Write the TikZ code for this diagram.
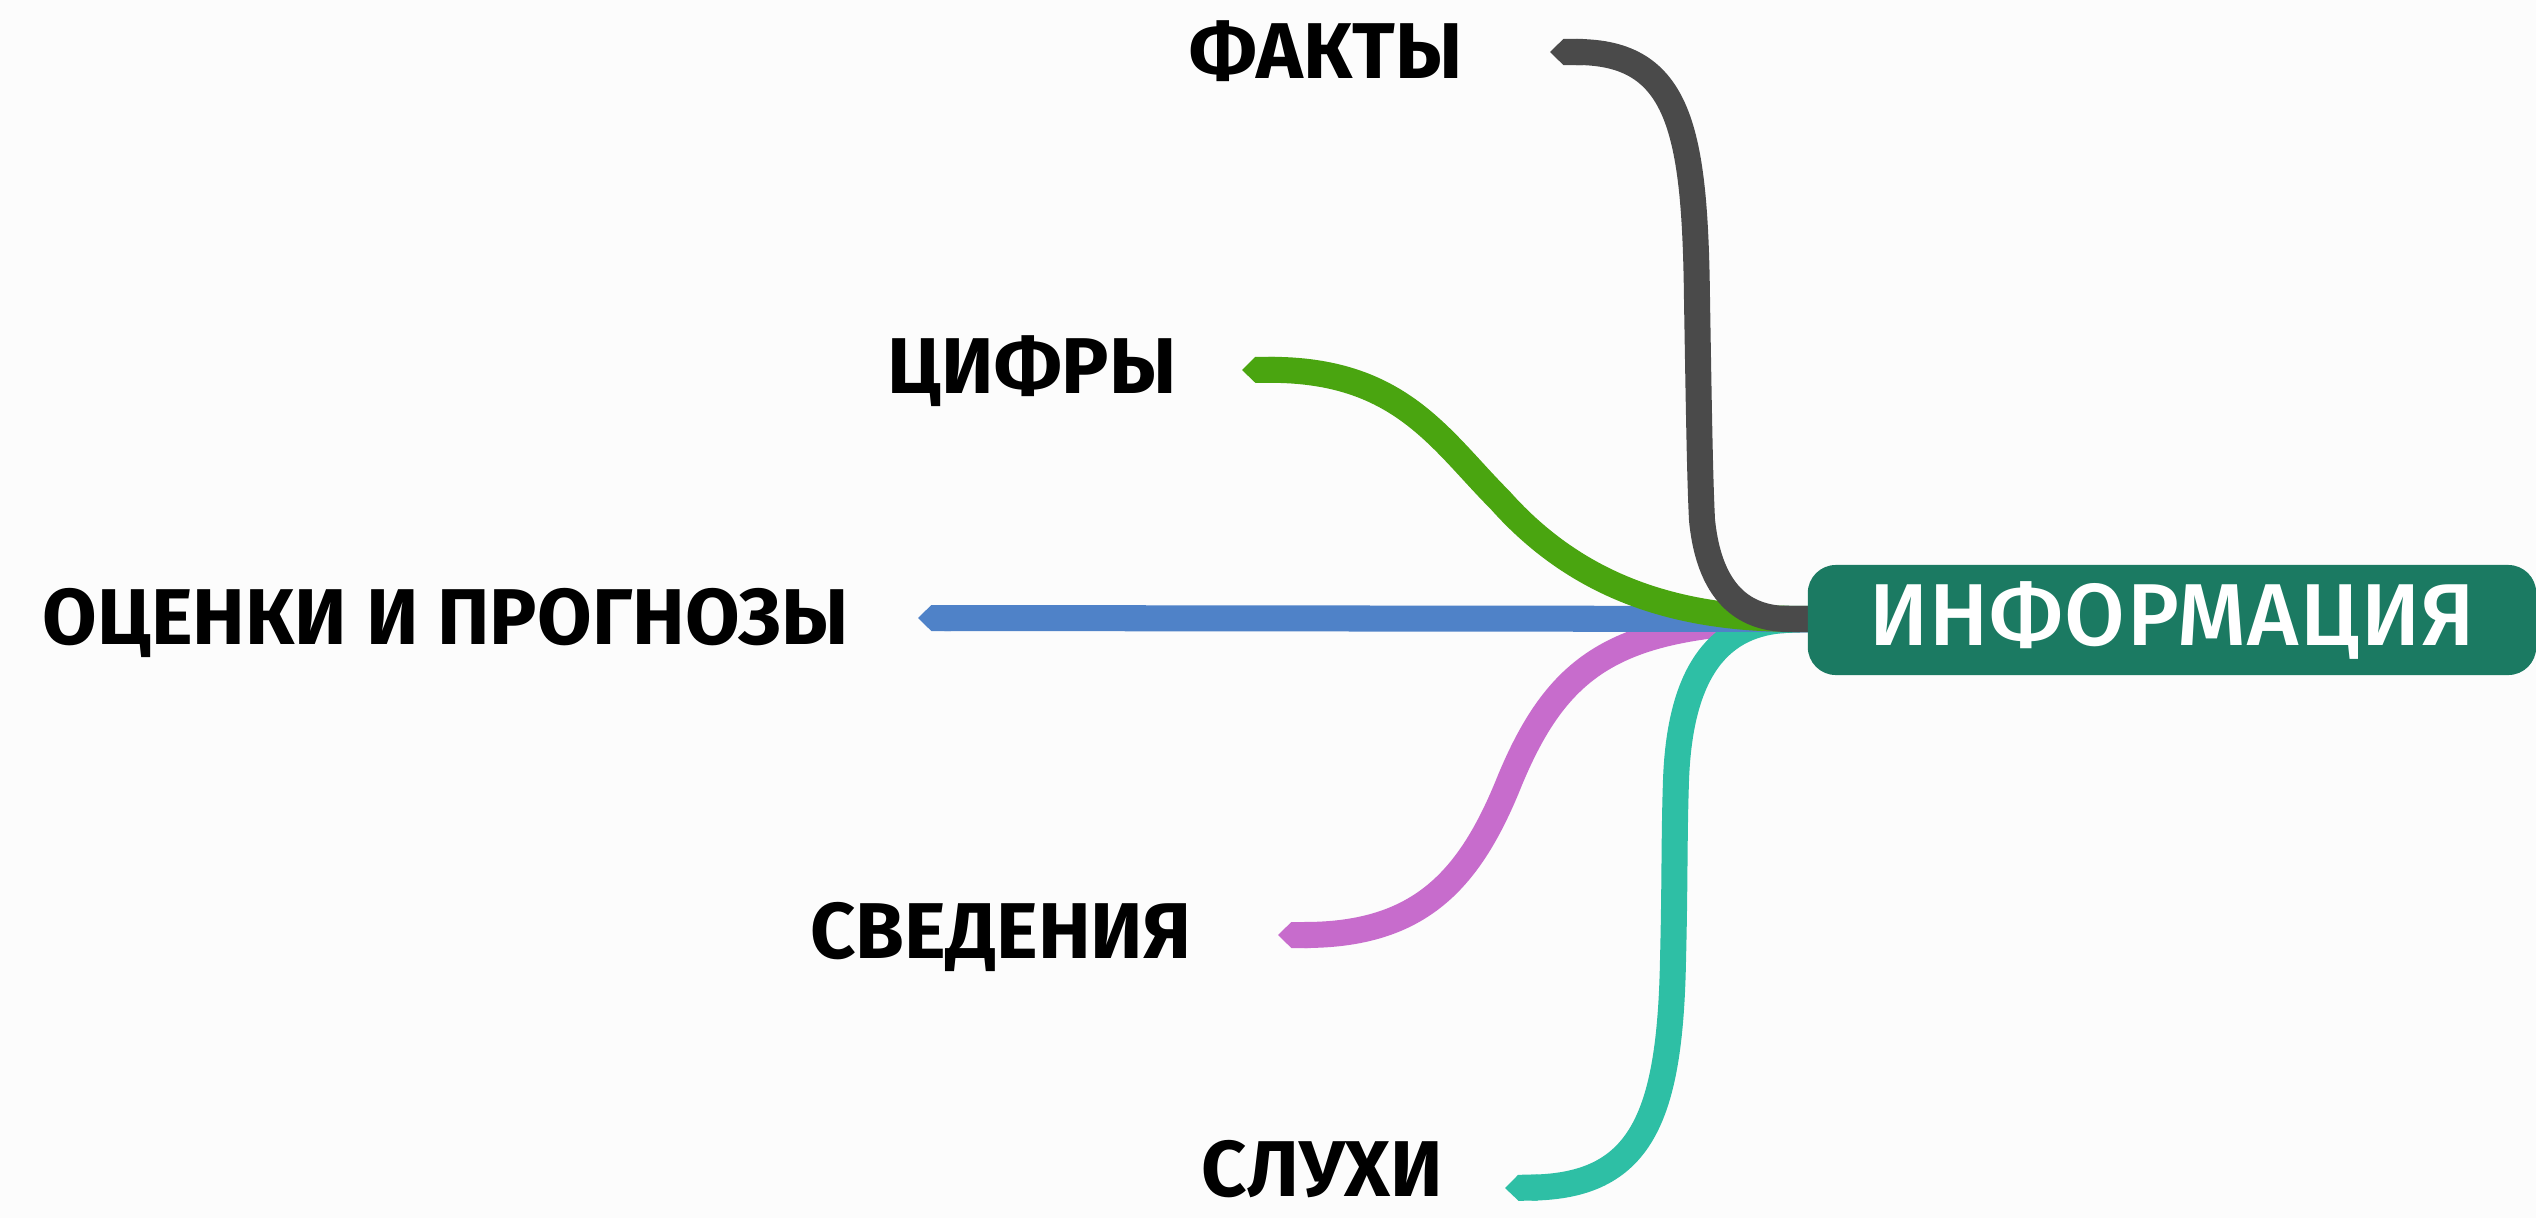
\documentclass[tikz,border=0pt]{standalone}
\usepackage{fontspec}
\setmainfont{Fira Sans}
\newfontfamily\hubfont{Fira Sans Medium}
\usetikzlibrary{arrows.meta}
\definecolor{cgray}{HTML}{4A4A4A}
\definecolor{cgreen}{HTML}{4AA510}
\definecolor{cblue}{HTML}{4F82C8}
\definecolor{cpurple}{HTML}{C76CCC}
\definecolor{cteal}{HTML}{2EBFA5}
\definecolor{cbox}{HTML}{1B7A62}
\definecolor{bg}{HTML}{FCFCFC}
\begin{document}
\begin{tikzpicture}[x=0.01cm,y=-0.01cm,
  lbl/.style={anchor=base east,inner sep=0pt,font=\fontsize{22.5}{27}\selectfont\bfseries,text=black},
  hubbox/.style={fill=cbox,rounded corners=0.28cm,minimum width=7.28cm,minimum height=1.1cm,inner sep=0pt,text=white,font=\hubfont\fontsize{25}{30}\selectfont\addfontfeatures{LetterSpace=1.5}},
  branch/.style={line width=7.4pt,{Triangle Cap[length=3.8pt]}-{Butt Cap}}]
\fill[bg] (0,0) rectangle (2536,1218);
\useasboundingbox (0,0) rectangle (2536,1218);
% labels
\node[lbl] (fakty) at (1463,78) {ФАКТЫ};
\node[lbl] (cifry) at (1177,393) {ЦИФРЫ};
\node[lbl] (ocenki) at (849,644) {ОЦЕНКИ И ПРОГНОЗЫ};
\node[lbl] (sved) at (1192,958) {СВЕДЕНИЯ};
\node[lbl] (sluhi) at (1444,1196) {СЛУХИ};
% line ends
\coordinate (fakty-e) at (1550,52);
\coordinate (cifry-e) at (1242,370);
\coordinate (ocenki-e) at (918,618);
\coordinate (sved-e) at (1278,935);
\coordinate (sluhi-e) at (1505,1188);
\coordinate (hub) at (1815,619);
% connectors
\draw[branch,cpurple] (sved-e) .. controls (1420,935) and (1470,880) .. (1510,780)
   .. controls (1560,660) and (1620,625) .. (hub);
\draw[branch,cteal] (sluhi-e) .. controls (1640,1186) and (1670,1120) .. (1673,960)
   .. controls (1675,880) and (1674,840) .. (1676,780) .. controls (1680,670) and (1720,622) .. (hub);
\draw[branch,cblue] (ocenki-e) -- (hub);
\draw[branch,cgreen] (cifry-e) .. controls (1400,369) and (1440,440) .. (1500,500)
   .. controls (1580,590) and (1680,618) .. (hub);
\draw[branch,cgray] (fakty-e) .. controls (1680,52) and (1695,130) .. (1697,300)
   .. controls (1699,420) and (1700,480) .. (1702,520) .. controls (1710,600) and (1750,619) .. (hub);
% main node
\node[hubbox] (main) at (2172,620) {ИНФОРМАЦИЯ};
\end{tikzpicture}
\end{document}
